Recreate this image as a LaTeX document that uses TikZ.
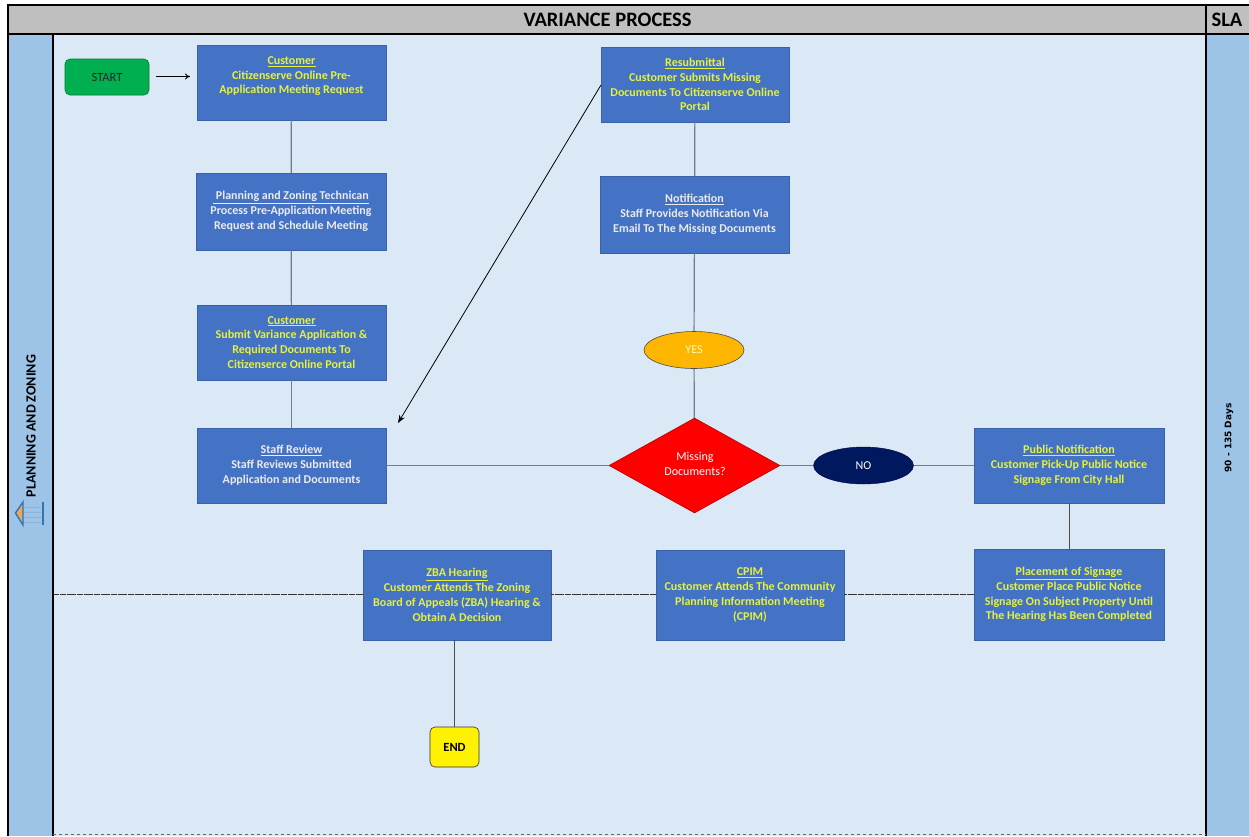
\documentclass[tikz,border=0pt]{standalone}
\usepackage{fontspec}
\setmainfont{Carlito}
\newfontfamily\dv{DejaVu Sans}
\usetikzlibrary{shapes.geometric,arrows.meta}
\definecolor{bgblue}{HTML}{DBE8F5}
\definecolor{side}{HTML}{9DC3E6}
\definecolor{head}{HTML}{BFBFBF}
\definecolor{boxb}{HTML}{4472C4}
\definecolor{ylw}{HTML}{E6F23C}
\definecolor{ln}{HTML}{6E7F8C}
\definecolor{startg}{HTML}{00B050}
\definecolor{iconb}{HTML}{2E75B6}
\tikzset{
 x=1pt,y=-1pt,
 pbox/.style={fill=boxb,draw=boxb!85!black,line width=.5pt,align=center,font=\fontsize{12}{14.8}\selectfont\bfseries,inner sep=0pt,anchor=center},
 yb/.style={pbox,text=ylw},
 wb/.style={pbox,text=white!92!black},
 conn/.style={draw=ln,line width=1.2pt},
 dash line/.style={draw=black!80,line width=1pt,dash pattern=on 3pt off .4pt},
 framel/.style={draw=black,line width=1.4pt},
}
\newcommand{\bx}[6]{\node[#1,minimum width=#4-#2,minimum height=#5-#3] (#6) at ({(#2+#4)/2},{(#3+#5)/2})}
\begin{document}
\begin{tikzpicture}
\useasboundingbox (0,0) rectangle (1249,836);
\fill[white] (0,0) rectangle (1249,836);
\fill[bgblue] (53,34) rectangle (1206,836);
\fill[side] (8,34) rectangle (53,836);
\fill[side] (1206,34) rectangle (1249,836);
\fill[head] (8,5) rectangle (1249,34);
\draw[framel] (1249,5) -- (8,5) -- (8,836);
\draw[framel] (8,34) -- (1249,34);
\draw[framel] (53,34) -- (53,836);
\draw[framel] (1206,5) -- (1206,836);
\draw[draw=black!60,line width=.8pt,dash pattern=on 3pt off 3pt] (53,834.5) -- (1206,834.5);
\node[font=\fontsize{20.5}{24}\selectfont\bfseries] (title) at (607.5,20) {VARIANCE PROCESS};
\node[font=\fontsize{20.5}{24}\selectfont\bfseries] (sla) at (1227,20) {SLA};
\node[rotate=90,font=\fontsize{14}{16}\selectfont\bfseries] (lane) at (31,426) {PLANNING AND ZONING};
\node[rotate=90,font=\dv\fontsize{9}{11}\selectfont\bfseries] (days) at (1229,438) {90 - 135 Days};
% icon
\fill[orange!60!brown!70] (16,513) -- (23,504) -- (23,522) -- cycle;
\draw[iconb,line width=1.4pt] (23,502) -- (15.5,513) -- (23,525) -- cycle;
\draw[iconb,line width=2.6pt] (43,502) -- (43,525);
\foreach \yy in {507,512,517,522} \draw[iconb!55,line width=.9pt] (24,\yy) -- (41,\yy);
% nodes
\node[fill=startg,draw=startg!70!black,line width=.6pt,rounded corners=5pt,minimum width=84,minimum height=36,inner sep=0pt,font=\fontsize{12.5}{14}\selectfont,text=black!85] (start) at (107,77) {START};
\bx{yb}{197}{45}{386}{120}{c1} {\underline{Customer}\\Citizenserve Online Pre-\\Application Meeting Request\\[0pt]};
\bx{wb}{196}{173}{386}{250}{pz} {\underline{\ Planning and Zoning Technican}\\Process Pre-Application Meeting\\Request and Schedule Meeting};
\bx{yb}{197}{305}{386}{380}{c2} {\underline{Customer}\\Submit Variance Application \&\\Required Documents To\\Citizenserce Online Portal};
\bx{wb}{197}{428}{386}{503}{staff} {\underline{Staff Review}\\Staff Reviews Submitted\\Application and Documents};
\bx{yb}{601}{47}{789}{122}{res} {\underline{Resubmittal}\\Customer Submits Missing\\Documents To Citizenserve Online\\Portal};
\bx{wb}{600}{176}{789}{253}{notif} {\underline{Notification}\\Staff Provides Notification Via\\Email To The Missing Documents};
\node[ellipse,fill=orange!50!yellow!95!red,draw=black!70,line width=.6pt,minimum width=100,minimum height=37,inner sep=0pt,text=white!75!yellow,font=\fontsize{12}{13}\selectfont] (yes) at (694,350) {YES};
\node[diamond,aspect=1.8,fill=red,draw=red!70!black,line width=.6pt,minimum width=171,minimum height=95,inner sep=0pt] (miss) at (694.5,465.5) {};
\node[text=white,align=center,font=\fontsize{12}{14.8}\selectfont] (misst) at (695,464) {Missing\\Documents?};
\node[ellipse,fill=blue!30!black!90!cyan,draw=blue!30!black,minimum width=100,minimum height=37,inner sep=0pt,text=white,font=\fontsize{12}{13}\selectfont] (no) at (863.5,465.5) {NO};
\bx{yb}{974}{428}{1164}{503}{pub} {\underline{Public Notification}\\Customer Pick-Up Public Notice\\Signage From City Hall};
\bx{yb}{974}{549}{1164}{640}{place} {\underline{Placement of Signage}\\Customer Place Public Notice\\Signage On Subject Property Until\\The Hearing Has Been Completed};
\bx{yb}{656}{550}{844}{640}{cpim} {\underline{CPIM}\\Customer Attends The Community\\Planning Information Meeting\\(CPIM)};
\bx{yb}{363}{550}{551}{640}{zba} {\underline{ZBA Hearing}\\Customer Attends The Zoning\\Board of Appeals (ZBA) Hearing \&\\Obtain A Decision};
\node[fill=yellow,draw=black!80,line width=.6pt,rounded corners=5pt,minimum width=49,minimum height=40,inner sep=0pt,font=\fontsize{12.5}{14}\selectfont\bfseries] (end) at (454.5,747) {END};
\coordinate (leftend) at (53,594);
\coordinate (arrowstart) at (156,76.5);
\coordinate (arrowend) at (190,76.5);
\coordinate (diagS) at (601,85);
\coordinate (diagE) at (398,423);
% connectors
\draw[-{To[length=5pt,width=6pt]},black,line width=.8pt] (arrowstart) -- (arrowend);
\draw[conn] (c1) -- (pz);
\draw[conn] (pz) -- (c2);
\draw[conn] (c2) -- (staff);
\draw[conn] (staff) -- (miss);
\draw[conn] (miss) -- (no);
\draw[conn] (no) -- (pub);
\draw[conn] (res) -- (notif);
\draw[conn] (notif) -- (yes);
\draw[conn] (yes) -- (miss);
\draw[conn,draw=black!70,line width=1pt] (pub) -- (place);
\draw[conn,draw=black!70,line width=1pt] (zba.south -| end.north) -- (end.north);
\draw[-{Stealth[length=8pt,width=6pt]},black,line width=.8pt] (diagS) -- (diagE);
\draw[dash line] (leftend) -- (zba.west |- leftend);
\draw[dash line] (zba.east |- leftend) -- (cpim.west |- leftend);
\draw[dash line] (cpim.east |- leftend) -- (place.west |- leftend);
\end{tikzpicture}
\end{document}
